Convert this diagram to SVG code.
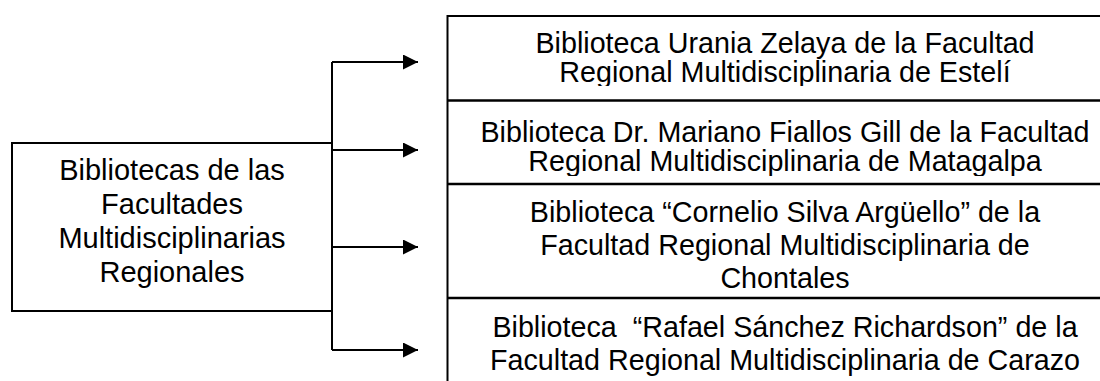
<svg xmlns="http://www.w3.org/2000/svg" width="1100" height="381" viewBox="0 0 1100 381">
<style>
.box{fill:#fff;stroke:#000;stroke-width:2}
.div{stroke:#000;stroke-width:2.5;fill:none}
.lt{font-family:"Liberation Sans",Arial,sans-serif;font-size:29px;fill:#000;text-anchor:middle}
.rt{font-family:"Liberation Sans",Arial,sans-serif;font-size:28.7px;fill:#000;text-anchor:middle}
.con{stroke:#000;stroke-width:2;fill:none}
</style>
<defs>
<marker id="ah" markerWidth="15" markerHeight="15" refX="15" refY="7.5" orient="auto" markerUnits="userSpaceOnUse">
<path d="M0,0 L15,7.5 L0,15 Z" fill="#000"/>
</marker>
<clipPath id="c1"><rect x="448" y="17" width="660" height="69"/></clipPath>
<clipPath id="c2"><rect x="448" y="102" width="660" height="74"/></clipPath>
<clipPath id="c3"><rect x="448" y="186" width="660" height="103"/></clipPath>
<clipPath id="c4"><rect x="448" y="300" width="660" height="81"/></clipPath>
</defs>
<rect width="1100" height="381" fill="#fff"/>
<g id="source">
<rect class="box" x="12" y="143" width="320" height="168"/>
<text class="lt" x="172" y="179.5">Bibliotecas de las</text>
<text class="lt" x="172" y="213.5">Facultades</text>
<text class="lt" x="172" y="247.5">Multidisciplinarias</text>
<text class="lt" x="172" y="281.5">Regionales</text>
</g>
<g id="connectors">
<path class="con" d="M332,62 V350"/>
<path class="con" d="M332,62 H418" marker-end="url(#ah)"/>
<path class="con" d="M332,150 H418" marker-end="url(#ah)"/>
<path class="con" d="M332,247 H418" marker-end="url(#ah)"/>
<path class="con" d="M332,350 H418" marker-end="url(#ah)"/>
</g>
<g id="targets-frame">
<path class="con" d="M447.5,16 H1100 M447.5,15 V381"/>
</g>
<g id="esteli">
<g clip-path="url(#c1)">
<text class="rt" x="785" y="52.5">Biblioteca Urania Zelaya de la Facultad</text>
<text class="rt" x="785" y="82">Regional Multidisciplinaria de Estelí</text>
</g>
<path class="div" d="M447.5,100.5 H1100"/>
</g>
<g id="matagalpa">
<g clip-path="url(#c2)">
<text class="rt" x="785" y="141.5">Biblioteca Dr. Mariano Fiallos Gill de la Facultad</text>
<text class="rt" x="785" y="171">Regional Multidisciplinaria de Matagalpa</text>
</g>
<path class="div" d="M447.5,184 H1100"/>
</g>
<g id="chontales">
<g clip-path="url(#c3)">
<text class="rt" x="785" y="222">Biblioteca “Cornelio Silva Argüello” de la</text>
<text class="rt" x="785" y="255">Facultad Regional Multidisciplinaria de</text>
<text class="rt" x="785" y="288">Chontales</text>
</g>
<path class="div" d="M447.5,298 H1100"/>
</g>
<g id="carazo">
<g clip-path="url(#c4)">
<text class="rt" x="785" y="337" xml:space="preserve">Biblioteca  “Rafael Sánchez Richardson” de la</text>
<text class="rt" x="785" y="369.5">Facultad Regional Multidisciplinaria de Carazo</text>
</g>
</g>
</svg>
